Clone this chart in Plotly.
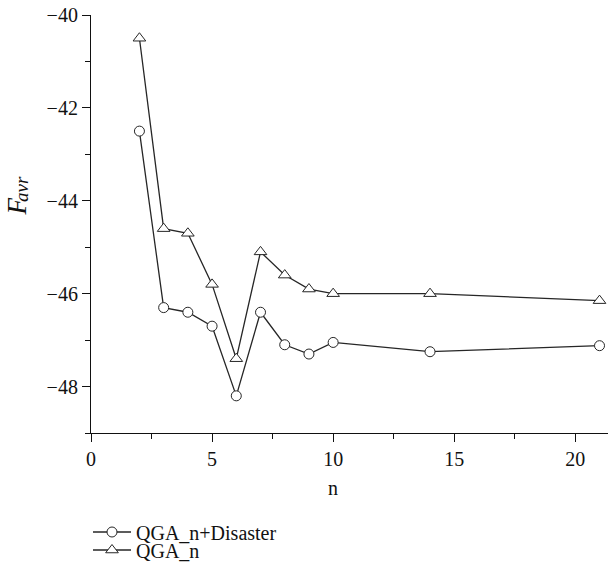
import plotly.graph_objects as go

# population size n
n_values = [2, 3, 4, 5, 6, 7, 8, 9, 10, 14, 21]

# average fitness F_avr per algorithm
f_disaster = [-42.5, -46.3, -46.4, -46.7, -48.2, -46.4, -47.1, -47.3, -47.05, -47.25, -47.12]
f_plain = [-40.5, -44.6, -44.7, -45.8, -47.4, -45.1, -45.6, -45.9, -46.0, -46.0, -46.15]

series_names = ["QGA_n+Disaster", "QGA_n"]

FONT = "Times New Roman"
INK = "#262626"
TXT = "#111111"

W, H = 608, 570
ML, MR, MT, MB = 91, 0, 15, 137

fig = go.Figure()

fig.add_trace(go.Scatter(
    x=n_values, y=f_disaster, name=series_names[0], mode="lines+markers",
    line=dict(color=INK, width=1.3),
    marker=dict(symbol="circle", size=10, color="white", line=dict(color=INK, width=1)),
    legend="legend",
))
fig.add_trace(go.Scatter(
    x=n_values, y=f_plain, name=series_names[1], mode="lines+markers",
    line=dict(color=INK, width=1.3),
    marker=dict(symbol="triangle-up", size=11, color="white", line=dict(color=INK, width=1)),
    legend="legend2",
))

plot_h = H - MT - MB


def paper_y(px):
    return (H - MB - px) / plot_h


def paper_x(px):
    return (px - ML) / (W - ML - MR)


def serif(size):
    return dict(family=FONT, size=size, color=TXT)


legend_common = dict(
    xanchor="left", yanchor="middle", bgcolor="rgba(0,0,0,0)",
    font=serif(20), borderwidth=0, itemwidth=38,
)

axis_common = dict(
    showline=True, linecolor=TXT, linewidth=1.2,
    ticks="outside", ticklen=8, tickwidth=1.2, tickcolor=TXT,
    showgrid=False, zeroline=False, tickfont=serif(20),
)

fig.update_layout(
    template="none",
    width=W, height=H,
    margin=dict(l=ML, r=MR, t=MT, b=MB, pad=0),
    font=serif(20),
    xaxis=dict(
        range=[0, 21.35], tick0=0, dtick=5,
        minor=dict(dtick=2.5, tick0=0, ticks="outside", ticklen=5, tickwidth=1.2, tickcolor=TXT),
        **axis_common,
    ),
    yaxis=dict(
        range=[-49, -40], tick0=-40, dtick=2,
        minor=dict(dtick=1, tick0=-40, ticks="outside", ticklen=5, tickwidth=1.2, tickcolor=TXT),
        **axis_common,
    ),
    legend=dict(x=paper_x(88), y=paper_y(532), **legend_common),
    legend2=dict(x=paper_x(88), y=paper_y(550), **legend_common),
    showlegend=True,
    annotations=[
        dict(text="n", xref="x", x=10, yref="paper", y=paper_y(488),
             showarrow=False, xanchor="center", yanchor="middle", font=serif(20)),
        # rotated axis label: italic F with a lowered "avr" subscript
        dict(text="<i>F</i>", xref="paper", x=paper_x(16.5),
             yref="paper", y=paper_y(207), textangle=-90, showarrow=False,
             xanchor="center", yanchor="middle", font=serif(27)),
        dict(text="<i>avr</i>", xref="paper", x=paper_x(22),
             yref="paper", y=paper_y(189), textangle=-90, showarrow=False,
             xanchor="center", yanchor="middle", font=serif(19)),
    ],
)

fig.write_html("out.html")
